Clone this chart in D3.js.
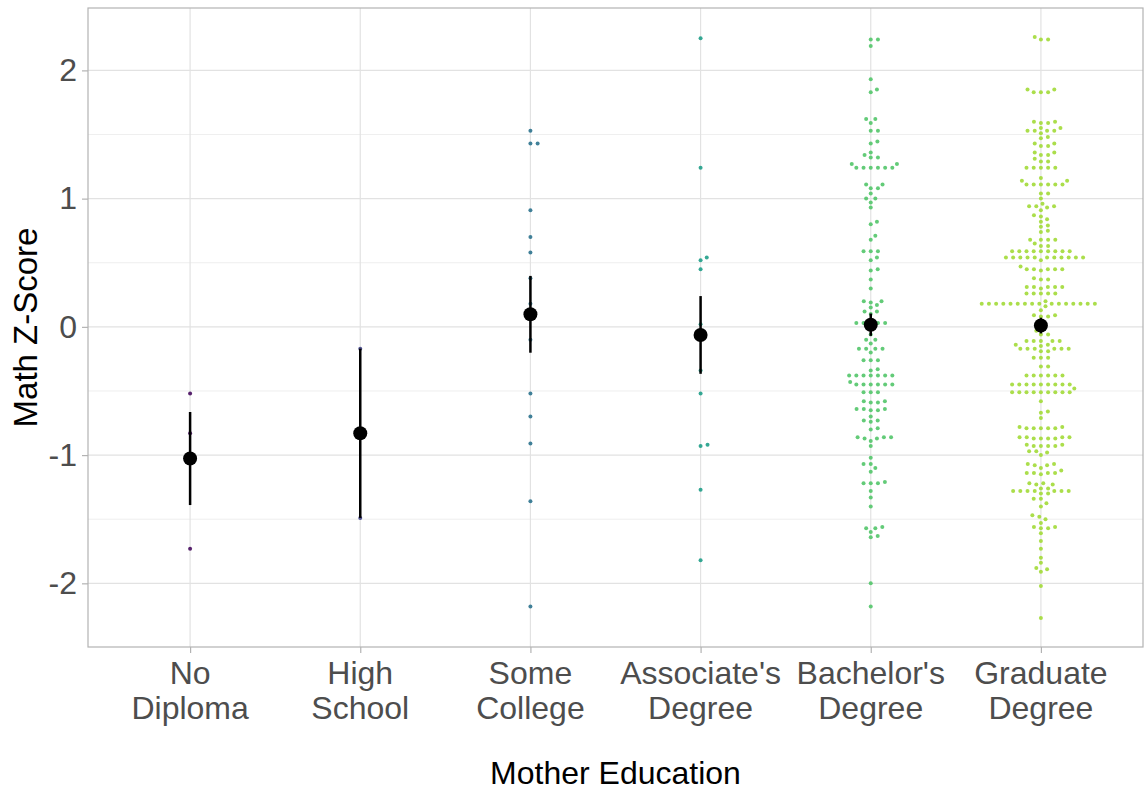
<!DOCTYPE html>
<html>
<head>
<meta charset="utf-8">
<script src="https://cdn.jsdelivr.net/npm/d3@7"></script>
<style>
  body { margin: 0; background: #fff; }
  text { font-family: "Liberation Sans", Arial, sans-serif; }
</style>
</head>
<body>
<div id="chart"></div>
<script>
// categories and their two-line tick labels
var categories = ["No Diploma", "High School", "Some College", "Associate's Degree", "Bachelor's Degree", "Graduate Degree"];
var tickLabels = [["No", "Diploma"], ["High", "School"], ["Some", "College"], ["Associate's", "Degree"], ["Bachelor's", "Degree"], ["Graduate", "Degree"]];
var yTicks = [-2, -1, 0, 1, 2];
var yMinorTicks = [-1.5, -0.5, 0.5, 1.5];

// math z-scores per group
var noDiploma = [-0.52, -0.83, -1.73];
var highSchool = [-0.17, -1.49];
var someCollege = [1.53, 1.43, 1.43, 0.91, 0.70, 0.58, 0.38, 0.18, -0.10, -0.52, -0.70, -0.91, -1.36, -2.18];
var associates = [2.25, 1.24, 0.54, 0.52, 0.45, 0.02, -0.04, -0.34, -0.52, -0.92, -0.93, -1.27, -1.82];
var bachelors = [
  2.24, 2.24, 2.19, 1.93, 1.85, 1.83, 1.62, 1.62, 1.59, 1.53, 1.53, 1.445, 1.43, 1.36, 1.34, 1.32, 1.32, 1.27, 1.27,
  1.24, 1.24, 1.24, 1.24, 1.24, 1.24,
  1.11, 1.11, 1.08, 1.08, 1.04, 1.00, 1.00, 0.97, 0.93, 0.82, 0.80, 0.71, 0.68, 0.59, 0.59, 0.59,
  0.54, 0.52, 0.45, 0.44, 0.37, 0.30, 0.20, 0.20, 0.19, 0.17, 0.15, 0.12, 0.12, 0.10,
  0.03, 0.03, 0.03, 0.03, 0.03,
  -0.06, -0.10, -0.10, -0.13, -0.17, -0.17, -0.17, -0.17, -0.20, -0.26, -0.26, -0.26, -0.33, -0.34,
  -0.38, -0.38, -0.38, -0.38, -0.38, -0.38, -0.38, -0.43, -0.45, -0.45, -0.45, -0.45, -0.45, -0.45,
  -0.51, -0.51, -0.51, -0.58, -0.58, -0.59, -0.59, -0.64, -0.64, -0.64, -0.65, -0.65, -0.70, -0.73, -0.73, -0.74,
  -0.79, -0.80, -0.86, -0.86, -0.86, -0.87, -0.87, -0.89, -0.93, -1.02, -1.07, -1.07, -1.10, -1.13,
  -1.21, -1.22, -1.22, -1.22, -1.28, -1.33, -1.40, -1.56, -1.57, -1.57, -1.60, -1.63, -1.64, -2.00, -2.18
];
var graduate = [
  2.26, 2.24, 2.24, 1.85, 1.85, 1.83, 1.83, 1.83, 1.60, 1.60, 1.59, 1.59, 1.55, 1.55, 1.53, 1.53, 1.53, 1.53,
  1.51, 1.48, 1.47, 1.43, 1.43, 1.41, 1.41, 1.36, 1.36, 1.34, 1.34, 1.31, 1.29, 1.29, 1.24, 1.24, 1.24, 1.24, 1.24,
  1.16, 1.14, 1.14, 1.11, 1.11, 1.11, 1.11, 1.11, 1.11, 1.04, 1.04, 1.00, 0.96, 0.94, 0.94, 0.94, 0.93, 0.91,
  0.87, 0.86, 0.84, 0.82, 0.79, 0.78, 0.75, 0.74, 0.68, 0.68, 0.68, 0.68, 0.65, 0.63, 0.63,
  0.59, 0.59, 0.59, 0.59, 0.59, 0.59, 0.59, 0.59, 0.59,
  0.54, 0.54, 0.54, 0.54, 0.54, 0.54, 0.54, 0.54, 0.54, 0.54, 0.54, 0.52, 0.47,
  0.45, 0.45, 0.45, 0.45, 0.45, 0.44, 0.38, 0.37, 0.37, 0.31, 0.31, 0.31, 0.31, 0.31, 0.30,
  0.26, 0.26, 0.26, 0.26, 0.26, 0.20,
  0.18, 0.18, 0.18, 0.18, 0.18, 0.18, 0.18, 0.18, 0.18, 0.18, 0.18, 0.18, 0.18, 0.18, 0.18, 0.18,
  0.16, 0.13, 0.09, 0.09, 0.08, 0.08,
  -0.03, -0.06, -0.06, -0.11, -0.11, -0.11, -0.11, -0.11, -0.14, -0.14, -0.15,
  -0.17, -0.17, -0.17, -0.17, -0.17, -0.17, -0.19, -0.19, -0.24, -0.24, -0.24, -0.31, -0.31,
  -0.38, -0.38, -0.38, -0.38, -0.38, -0.38,
  -0.45, -0.45, -0.45, -0.45, -0.45, -0.45, -0.45, -0.45, -0.45, -0.48,
  -0.51, -0.51, -0.51, -0.51, -0.51, -0.51, -0.51, -0.51, -0.51,
  -0.58, -0.66, -0.67, -0.71, -0.78, -0.78, -0.79, -0.79, -0.79, -0.79, -0.79,
  -0.86, -0.86, -0.86, -0.86, -0.87, -0.87, -0.87, -0.87, -0.92, -0.92, -0.93, -0.93, -0.93, -0.93,
  -0.97, -0.97, -0.98, -1.00, -1.07, -1.07, -1.08, -1.08, -1.10, -1.12, -1.14, -1.14, -1.14, -1.14, -1.15,
  -1.22, -1.22, -1.23, -1.23, -1.26, -1.26, -1.28, -1.28, -1.28, -1.28, -1.28, -1.28, -1.28, -1.30, -1.30,
  -1.34, -1.34, -1.375, -1.40, -1.47, -1.48, -1.50, -1.53, -1.56, -1.56, -1.57, -1.57,
  -1.61, -1.67, -1.73, -1.80, -1.84, -1.88, -1.89, -1.91, -2.02, -2.27
];
var groups = [noDiploma, highSchool, someCollege, associates, bachelors, graduate];

var width = 1144, height = 790;
var margin = { top: 8, right: 1, bottom: 143, left: 88 };

var svg = d3.select("#chart").append("svg")
  .attr("width", width)
  .attr("height", height)
  .style("background", "#fff");

var x = d3.scalePoint()
  .domain(categories)
  .range([margin.left, width - margin.right])
  .padding(0.6);

// y range with 5% expansion like ggplot
var allVals = d3.merge(groups);
var ext = d3.extent(allVals);
var pad = (ext[1] - ext[0]) * 0.05;
var y = d3.scaleLinear()
  .domain([ext[0] - pad, ext[1] + pad])
  .range([height - margin.bottom, margin.top]);

// viridis stops for the six groups
var viridisStops = [0.03, 0.2, 0.38, 0.56, 0.73, 0.86];
var color = d3.scaleOrdinal()
  .domain(categories)
  .range(viridisStops.map(function (t) { return d3.interpolateViridis(t); }));

var x0 = margin.left, x1 = width - margin.right;
var y0 = margin.top, y1 = height - margin.bottom;

// grid
svg.append("g").selectAll("line").data(yMinorTicks).enter().append("line")
  .attr("x1", x0).attr("x2", x1)
  .attr("y1", function (d) { return y(d); }).attr("y2", function (d) { return y(d); })
  .attr("stroke", "#efefef").attr("stroke-width", 1);
svg.append("g").selectAll("line").data(yTicks).enter().append("line")
  .attr("x1", x0).attr("x2", x1)
  .attr("y1", function (d) { return y(d); }).attr("y2", function (d) { return y(d); })
  .attr("stroke", "#e2e2e2").attr("stroke-width", 1.2);
svg.append("g").selectAll("line").data(categories).enter().append("line")
  .attr("y1", y0).attr("y2", y1)
  .attr("x1", function (d) { return x(d); }).attr("x2", function (d) { return x(d); })
  .attr("stroke", "#e2e2e2").attr("stroke-width", 1.2);

// beeswarm offsets (in pixels), placed from lowest value upward
function swarm(py, dx, dy) {
  var order = d3.range(py.length).sort(function (a, b) { return py[b] - py[a]; });
  var placed = [], off = new Array(py.length);
  order.forEach(function (i) {
    var yy = py[i];
    var near = placed.filter(function (p) { return Math.abs(p.y - yy) < dy; });
    var cands = [0];
    near.forEach(function (p) {
      var h = dx * Math.sqrt(1 - Math.pow((p.y - yy) / dy, 2));
      cands.push(p.x + h, p.x - h);
    });
    cands.sort(function (a, b) { return (Math.abs(a) - Math.abs(b)) || (b - a); });
    var xx = cands.find(function (c) {
      return near.every(function (p) {
        return Math.pow((c - p.x) / dx, 2) + Math.pow((yy - p.y) / dy, 2) >= 0.999;
      });
    });
    off[i] = xx;
    placed.push({ x: xx, y: yy });
  });
  return off;
}

var points = [];
groups.forEach(function (vals, gi) {
  var py = vals.map(function (v) { return y(v); });
  var off = swarm(py, 7.2, 5);
  vals.forEach(function (v, i) {
    points.push({ cat: categories[gi], value: v, dx: off[i] });
  });
});

svg.append("g").selectAll("circle").data(points).enter().append("circle")
  .attr("cx", function (d) { return x(d.cat) + d.dx; })
  .attr("cy", function (d) { return y(d.value); })
  .attr("r", 2)
  .attr("fill", function (d) { return color(d.cat); })
  .attr("fill-opacity", 0.9);

// mean +/- standard error
var summary = groups.map(function (vals, gi) {
  var m = d3.mean(vals);
  var se = d3.deviation(vals) / Math.sqrt(vals.length);
  return { cat: categories[gi], mean: m, lo: m - se, hi: m + se };
});

svg.append("g").selectAll("line").data(summary).enter().append("line")
  .attr("x1", function (d) { return x(d.cat); }).attr("x2", function (d) { return x(d.cat); })
  .attr("y1", function (d) { return y(d.lo); }).attr("y2", function (d) { return y(d.hi); })
  .attr("stroke", "#000").attr("stroke-width", 2.5);

svg.append("g").selectAll("circle").data(summary).enter().append("circle")
  .attr("cx", function (d) { return x(d.cat); })
  .attr("cy", function (d) { return y(d.mean); })
  .attr("r", 7)
  .attr("fill", "#000");

// panel border
svg.append("rect")
  .attr("x", x0).attr("y", y0)
  .attr("width", x1 - x0).attr("height", y1 - y0)
  .attr("fill", "none").attr("stroke", "#b3b3b3").attr("stroke-width", 1.2);

// axes
var yAxis = svg.append("g")
  .attr("transform", "translate(" + x0 + ",0)")
  .call(d3.axisLeft(y).tickValues(yTicks).tickSize(6).tickPadding(5).tickFormat(d3.format("d")));
yAxis.select(".domain").remove();
yAxis.selectAll("line").attr("stroke", "#b3b3b3").attr("stroke-width", 1.2);
yAxis.selectAll("text").attr("fill", "#4d4d4d").style("font-size", "32px")
  .text(function (d) { return d < 0 ? "-" + Math.abs(d) : d; });

var xAxis = svg.append("g")
  .attr("transform", "translate(0," + y1 + ")")
  .call(d3.axisBottom(x).tickSize(6).tickFormat(""));
xAxis.select(".domain").remove();
xAxis.selectAll("line").attr("stroke", "#b3b3b3").attr("stroke-width", 1.2);

var lbl = svg.append("g").selectAll("text").data(categories).enter().append("text")
  .attr("x", function (d) { return x(d); })
  .attr("y", y1 + 37)
  .attr("text-anchor", "middle")
  .attr("fill", "#4d4d4d")
  .style("font-size", "32px");
lbl.each(function (d, i) {
  var t = d3.select(this);
  tickLabels[i].forEach(function (line, k) {
    t.append("tspan").attr("x", x(d)).attr("dy", k === 0 ? 0 : 35).text(line);
  });
});

// axis titles
svg.append("text")
  .attr("x", (x0 + x1) / 2)
  .attr("y", 784)
  .attr("text-anchor", "middle")
  .attr("fill", "#000")
  .style("font-size", "32px")
  .text("Mother Education");

svg.append("text")
  .attr("transform", "translate(37," + ((y0 + y1) / 2) + ") rotate(-90)")
  .attr("text-anchor", "middle")
  .attr("fill", "#000")
  .style("font-size", "33px")
  .text("Math Z-Score");
</script>
</body>
</html>
